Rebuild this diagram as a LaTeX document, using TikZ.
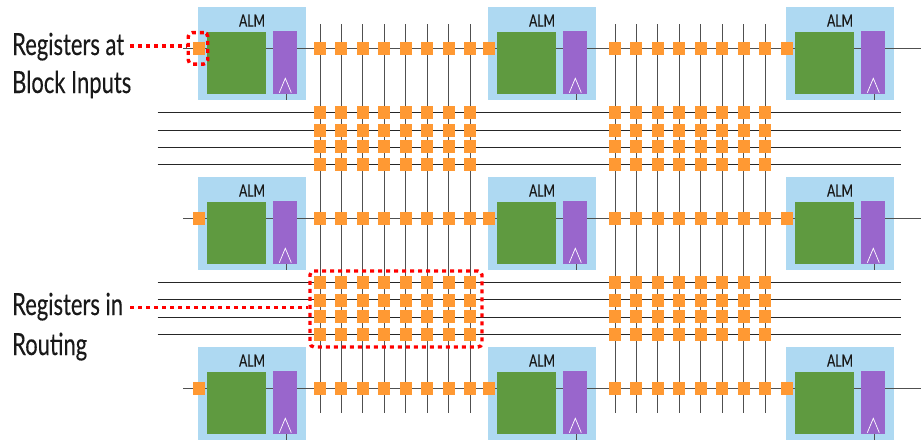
\documentclass[tikz,border=0pt]{standalone}
\usepackage{fontspec}
\newfontfamily\cond[FakeStretch=0.72,FakeBold=0.25]{Lato}
\definecolor{almblue}{HTML}{AED9F2}
\definecolor{almgreen}{HTML}{5F9A40}
\definecolor{almpurple}{HTML}{9966CC}
\definecolor{regorange}{HTML}{FF9933}
\definecolor{wiregray}{HTML}{505050}
\tikzset{
  almbox/.style={fill=almblue,draw=none,minimum width=108pt,minimum height=93pt,inner sep=0pt},
  lutbox/.style={fill=almgreen,draw=none,minimum width=59pt,minimum height=62pt,inner sep=0pt},
  ffbox/.style={fill=almpurple,draw=none,minimum width=24pt,minimum height=63pt,inner sep=0pt},
  reg/.style={fill=regorange,draw=none,minimum width=12pt,minimum height=13pt,inner sep=0pt},
  wire/.style={draw=wiregray,line width=1pt},
  route/.style={draw=black!85,line width=1pt},
  chev/.style={draw=white,line width=0.7pt},
  callout/.style={draw=red,line width=3.4pt,dash pattern=on 4pt off 4pt,rounded corners=4pt,fill=none},
  lead/.style={draw=red,line width=3.4pt,dash pattern=on 4pt off 4pt},
  almlabel/.style={font=\cond\fontsize{17}{17}\selectfont,inner sep=0pt,anchor=base,text=black!90},
  sidelabel/.style={font=\cond\fontsize{30.5}{30.5}\selectfont,inner sep=0pt,anchor=base west,text=black!90}
}
\begin{document}
\begin{tikzpicture}[x=1pt,y=-1pt]
\useasboundingbox (0,0) rectangle (921,440);
% ALM backgrounds
\foreach \r/\ya in {1/53.5,2/223.5,3/393.5}
  \foreach \c/\xa in {1/252,2/542,3/840}
    \node[almbox] (alm-\r-\c) at (\xa,\ya) {};
% vertical routing wires
\foreach \x [count=\i] in {320,341.4,362.9,384.3,405.7,427.1,448.6,470,615,636.4,657.9,679.3,700.7,722.1,743.6,765}{
  \coordinate (vt-\i) at (\x,24);
  \coordinate (vb-\i) at (\x,413);
  \draw[wire] (vt-\i) -- (vb-\i);
}
% horizontal routing wires
\foreach \y [count=\i] in {112.5,130,147,164.5,282.3,299.7,317,334.3}{
  \coordinate (hl-\i) at (157.5,\y);
  \coordinate (hr-\i) at (901,\y);
  \draw[route] (hl-\i) -- (hr-\i);
}
% row wires
\foreach \y [count=\i] in {48,218,388}{
  \coordinate (rl-\i) at (183,\y);
  \coordinate (rr-\i) at (921,\y);
  \draw[wire] (rl-\i) -- (rr-\i);
}
% ALM internals
\foreach \r/\ya in {1/0,2/170,3/340}
  \foreach \c/\xa in {1/0,2/290,3/588}{
    \node[lutbox] (lut-\r-\c) at (236.5+\xa,63+\ya) {};
    \node[ffbox] (ff-\r-\c) at (285+\xa,62.5+\ya) {};
    \coordinate (clk-\r-\c) at (286+\xa,100+\ya);
    \draw[wire] (ff-\r-\c.south -| clk-\r-\c) -- (clk-\r-\c);
    \coordinate (cha-\r-\c) at (279.3+\xa,92.7+\ya);
    \coordinate (chb-\r-\c) at (285.3+\xa,78.3+\ya);
    \coordinate (chc-\r-\c) at (291.3+\xa,92.7+\ya);
    \draw[chev] (cha-\r-\c) -- (chb-\r-\c) -- (chc-\r-\c);
    \node[almlabel] (almt-\r-\c) at (252+\xa,26.7+\ya) {ALM};
  }
% registers on the crossings
\foreach \y [count=\j] in {48,218,388,112.7,130,146.3,164,282.5,300.3,316.3,334.5}
  \foreach \x [count=\i] in {320,341.4,362.9,384.3,405.7,427.1,448.6,470,615,636.4,657.9,679.3,700.7,722.1,743.6,765}
    \node[reg] (reg-\j-\i) at (\x,\y) {};
% registers at block inputs
\foreach \y [count=\j] in {48,218,388}
  \foreach \x [count=\i] in {199,489,787}
    \node[reg] (inreg-\j-\i) at (\x,\y) {};
% side labels
\node[sidelabel] (lab1) at (12,55) {Registers at};
\node[sidelabel] (lab2) at (12,93) {Block Inputs};
\node[sidelabel] (lab3) at (12,315) {Registers in};
\node[sidelabel] (lab4) at (12,355) {Routing};
% callouts
\node[callout,minimum width=19.5pt,minimum height=31.5pt,inner sep=0pt] (box1) at (198,48.3) {};
\node[callout,minimum width=172pt,minimum height=76pt,inner sep=0pt] (box2) at (396,309) {};
\coordinate (ls1) at (130,46);
\coordinate (ls2) at (130,307.5);
\draw[lead] (ls1) -- (ls1 -| box1.west);
\draw[lead] (ls2) -- (ls2 -| box2.west);
\end{tikzpicture}
\end{document}
